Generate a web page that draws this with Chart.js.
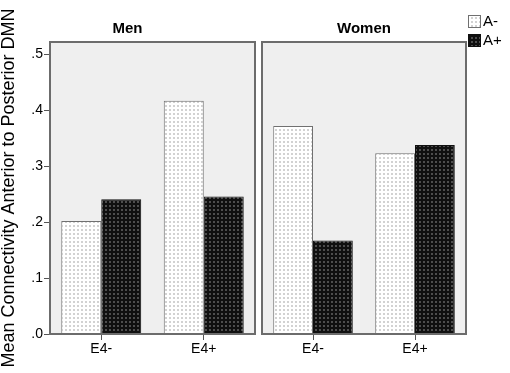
<!DOCTYPE html>
<html>
<head>
<meta charset="utf-8">
<script src="https://cdn.jsdelivr.net/npm/chart.js@4.4.1/dist/chart.umd.min.js"></script>
<style>
  html, body { margin: 0; padding: 0; background: #fff; }
  #wrap { position: relative; width: 510px; height: 373px; overflow: hidden; }
  #men { position: absolute; left: 0; top: 0; }
  #women { position: absolute; left: 258px; top: 0; }
</style>
</head>
<body>
<div id="wrap">
  <canvas id="men" width="258" height="373"></canvas>
  <canvas id="women" width="252" height="373"></canvas>
</div>
<script>
// values
const GROUPS = ['E4-', 'E4+'];
const SERIES = ['A-', 'A+'];
const MEN_A_MINUS = [0.202, 0.417];
const MEN_A_PLUS = [0.241, 0.246];
const WOMEN_A_MINUS = [0.372, 0.323];
const WOMEN_A_PLUS = [0.167, 0.338];
const Y_TICKS = [0, 0.1, 0.2, 0.3, 0.4, 0.5];
const Y_MAX = 0.522;

const FONT = 'Liberation Sans, Arial, sans-serif';
const TEXT = '#000';

// dotted fills like the original
function makePattern(bg, dot) {
  const c = document.createElement('canvas');
  c.width = 4; c.height = 4;
  const g = c.getContext('2d');
  g.fillStyle = bg;
  g.fillRect(0, 0, 4, 4);
  g.fillStyle = dot;
  g.fillRect(1, 1, 2, 2);
  return g.createPattern(c, 'repeat');
}
const lightFill = makePattern('#ffffff', '#d2d2d2');
const darkFill = makePattern('#101010', '#4e4e4e');

const panelPlugin = {
  id: 'panel',
  beforeDatasetsDraw(chart) {
    const { ctx, chartArea: a } = chart;
    ctx.save();
    ctx.fillStyle = '#efefef';
    ctx.fillRect(a.left, a.top, a.right - a.left, a.bottom - a.top);
    ctx.restore();
  },
  afterDraw(chart) {
    const { ctx, chartArea: a } = chart;
    ctx.save();
    ctx.strokeStyle = '#6c6c6c';
    ctx.lineWidth = 2;
    ctx.strokeRect(a.left, a.top, a.right - a.left, a.bottom - a.top);
    ctx.restore();
  }
};

const legendPlugin = {
  id: 'sideLegend',
  afterDraw(chart) {
    const ctx = chart.ctx;
    ctx.save();
    chart.data.datasets.forEach((ds, i) => {
      const y = 15 + i * 19;
      ctx.fillStyle = ds.backgroundColor;
      ctx.fillRect(210, y, 13, 13);
      ctx.strokeStyle = ds.borderColor;
      ctx.lineWidth = 1;
      ctx.strokeRect(210.5, y + 0.5, 12, 12);
      ctx.fillStyle = TEXT;
      ctx.font = '15px ' + FONT;
      ctx.textBaseline = 'middle';
      ctx.fillText(ds.label, 225, y + 7);
    });
    ctx.restore();
  }
};

function buildDatasets(minus, plus) {
  return [
    { label: SERIES[0], data: minus, backgroundColor: lightFill, borderColor: '#707070', borderWidth: 1 },
    { label: SERIES[1], data: plus, backgroundColor: darkFill, borderColor: '#101010', borderWidth: 1 }
  ];
}

function makeChart(id, title, minus, plus, showY, padding, extraPlugins) {
  return new Chart(document.getElementById(id), {
    type: 'bar',
    data: { labels: GROUPS, datasets: buildDatasets(minus, plus) },
    options: {
      responsive: false,
      animation: false,
      layout: { padding: padding },
      datasets: { bar: { categoryPercentage: 0.78, barPercentage: 1.0 } },
      plugins: {
        legend: { display: false },
        tooltip: { enabled: false },
        title: {
          display: true,
          text: title,
          color: TEXT,
          font: { family: FONT, size: 15, weight: 'bold', lineHeight: 1.2 },
          padding: { top: 20, bottom: 4 }
        }
      },
      scales: {
        x: {
          offset: true,
          border: { display: false },
          grid: { offset: false, drawOnChartArea: false, tickLength: 6, color: '#555' },
          ticks: { color: TEXT, padding: 1, font: { family: FONT, size: 14 } },
          afterFit: s => { s.height = 39; }
        },
        y: {
          display: showY,
          min: 0,
          max: Y_MAX,
          border: { display: false },
          grid: { drawOnChartArea: false, tickLength: 6, color: '#555' },
          afterBuildTicks: s => { s.ticks = Y_TICKS.map(v => ({ value: v })); },
          ticks: {
            color: TEXT,
            padding: 1,
            font: { family: FONT, size: 14 },
            callback: v => v.toFixed(1).replace(/^0/, '')
          },
          title: {
            display: true,
            text: 'Mean Connectivity Anterior to Posterior DMN',
            color: TEXT,
            font: { family: FONT, size: 18, lineHeight: 1 },
            padding: { top: 0, bottom: 0 }
          },
          afterFit: s => { s.width = showY ? 50 : 0; }
        }
      }
    },
    plugins: [panelPlugin].concat(extraPlugins)
  });
}

makeChart('men', 'Men', MEN_A_MINUS, MEN_A_PLUS, true, { left: 0, right: 3 }, []);
makeChart('women', 'Women', WOMEN_A_MINUS, WOMEN_A_PLUS, false, { left: 4, right: 44 }, [legendPlugin]);
</script>
</body>
</html>
